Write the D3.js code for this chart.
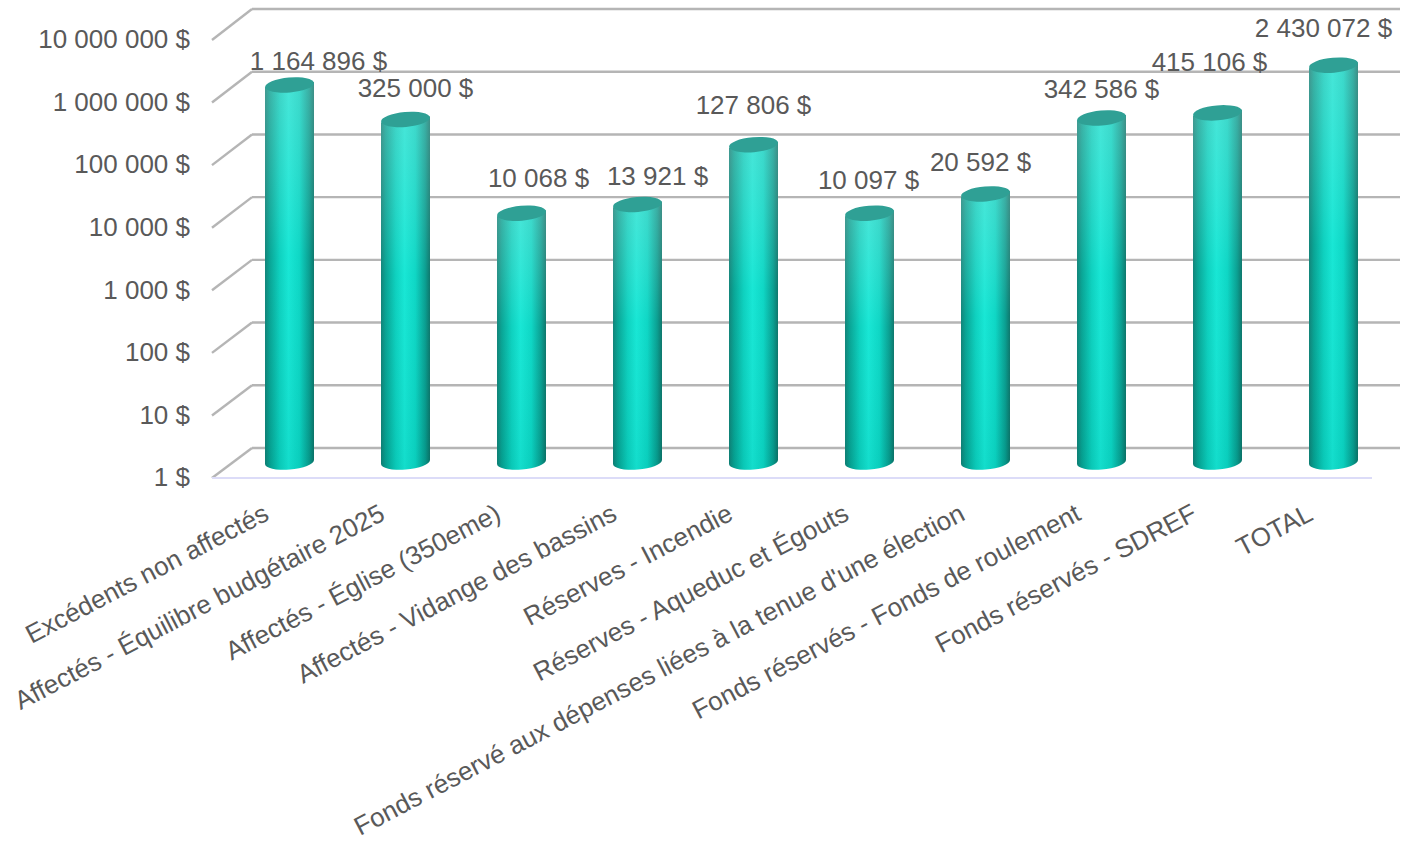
<!DOCTYPE html>
<html>
<head>
<meta charset="utf-8">
<style>
  body { margin: 0; background: #fff; }
  text { font-family: "Liberation Sans", Arial, sans-serif; fill: #595959; }
</style>
<script src="https://cdn.jsdelivr.net/npm/d3@7/dist/d3.min.js"></script>
</head>
<body>
<svg width="1401" height="841"></svg>
<script>
var categories = [
  "Excédents non affectés",
  "Affectés - Équilibre budgétaire 2025",
  "Affectés - Église (350eme)",
  "Affectés - Vidange des bassins",
  "Réserves - Incendie",
  "Réserves - Aqueduc et Égouts",
  "Fonds réservé aux dépenses liées à la tenue d'une élection",
  "Fonds réservés - Fonds de roulement",
  "Fonds réservés - SDREF",
  "TOTAL"
];
var values = [1164896, 325000, 10068, 13921, 127806, 10097, 20592, 342586, 415106, 2430072];
var tickValues = [1, 10, 100, 1000, 10000, 100000, 1000000, 10000000];

// hand placement of the value labels, the original has them scattered
var labelDx = [29, 10, 17, 20, 0, -1, -5, 0, -8, -10];
var labelDy = [-15, -22, -26, -20, -31, -24, -23, -20, -42, -28];

var svg = d3.select("svg");
var money = function (d) { return d3.format(",")(d).replace(/,/g, " ") + " $"; };

var x = d3.scaleBand().domain(categories).range([231.5, 1391.5]).paddingInner(0.5776).paddingOuter(0.2888);
var yFront = d3.scaleLog().domain([1, 1e7]).range([478, 40]);
var yBack = d3.scaleLog().domain([1, 1e7]).range([448, 9]);
var yBar = d3.scaleLog().domain([1, 1e7]).range([462, 27]);

var defs = svg.append("defs");
var side = defs.append("linearGradient").attr("id", "side");
[[0, "#0e8277"], [0.1, "#05a494"], [0.3, "#0ad0be"], [0.48, "#14e6d4"], [0.7, "#0ad6c4"], [0.9, "#069e90"], [1, "#0a7469"]].forEach(function (s) {
  side.append("stop").attr("offset", s[0]).attr("stop-color", s[1]);
});
var sheen = defs.append("linearGradient").attr("id", "sheen").attr("x2", 0).attr("y2", 1);
[[0, "#e0e0e0", 0.25], [0.45, "#fff", 0.02], [1, "#000", 0.04]].forEach(function (s) {
  sheen.append("stop").attr("offset", s[0]).attr("stop-color", s[1]).attr("stop-opacity", s[2]);
});

// back wall and side wall
var grid = svg.append("g").attr("stroke", "#b5b5b5").attr("stroke-width", 2.4).attr("fill", "none");
grid.selectAll(".back").data(tickValues).enter().append("line")
  .attr("x1", 252).attr("x2", 1400)
  .attr("y1", function (d) { return yBack(d); })
  .attr("y2", function (d) { return yBack(d); });
grid.selectAll(".wall").data(tickValues).enter().append("line")
  .attr("x1", 212).attr("x2", 252)
  .attr("y1", function (d) { return yFront(d); })
  .attr("y2", function (d) { return yBack(d); });

// floor edge
svg.append("line").attr("x1", 212).attr("x2", 1372).attr("y1", yFront(1)).attr("y2", yFront(1))
  .attr("stroke", "#dcdcf8").attr("stroke-width", 2);

var yAxis = svg.append("g")
  .attr("transform", "translate(197,0)")
  .call(d3.axisLeft(yFront).tickValues(tickValues).tickFormat(money).tickSize(0).tickPadding(7));
yAxis.select(".domain").remove();
yAxis.selectAll("text").attr("font-size", 26).attr("dy", "0.3em")
  .style("font-family", '"Liberation Sans", Arial, sans-serif').style("fill", "#595959");

// cylinders
var rx = x.bandwidth() / 2, ry = 7.5, tilt = 3;
function body(d, i) {
  var x0 = x(categories[i]), x1 = x0 + x.bandwidth(), top = yBar(d), bot = yBar(1);
  return "M" + x0 + "," + (top + tilt) +
    "L" + x0 + "," + (bot + tilt - 1) +
    "A" + rx + "," + ry + " -5 0 0 " + x1 + "," + (bot - tilt + 1) +
    "L" + x1 + "," + (top - tilt) + "Z";
}
var bars = svg.append("g").selectAll("g").data(values).enter().append("g");
bars.append("path").attr("d", body).attr("fill", "url(#side)");
bars.append("path").attr("d", body).attr("fill", "url(#sheen)");
bars.append("ellipse")
  .attr("rx", rx).attr("ry", ry)
  .attr("transform", function (d, i) {
    return "translate(" + (x(categories[i]) + rx) + "," + yBar(d) + ") rotate(-5)";
  })
  .attr("fill", "#2fa095");

// value labels
svg.append("g").selectAll("text").data(values).enter().append("text")
  .attr("text-anchor", "middle").attr("font-size", 26)
  .attr("x", function (d, i) { return x(categories[i]) + rx + labelDx[i]; })
  .attr("y", function (d, i) { return yBar(d) + labelDy[i]; })
  .text(money);

// category labels
svg.append("g").selectAll("text").data(categories).enter().append("text")
  .attr("text-anchor", "end").attr("font-size", 26)
  .attr("transform", function (d) {
    return "translate(" + (x(d) + rx - 19) + ",519) rotate(-27.6)";
  })
  .text(function (d) { return d; });
</script>
</body>
</html>
